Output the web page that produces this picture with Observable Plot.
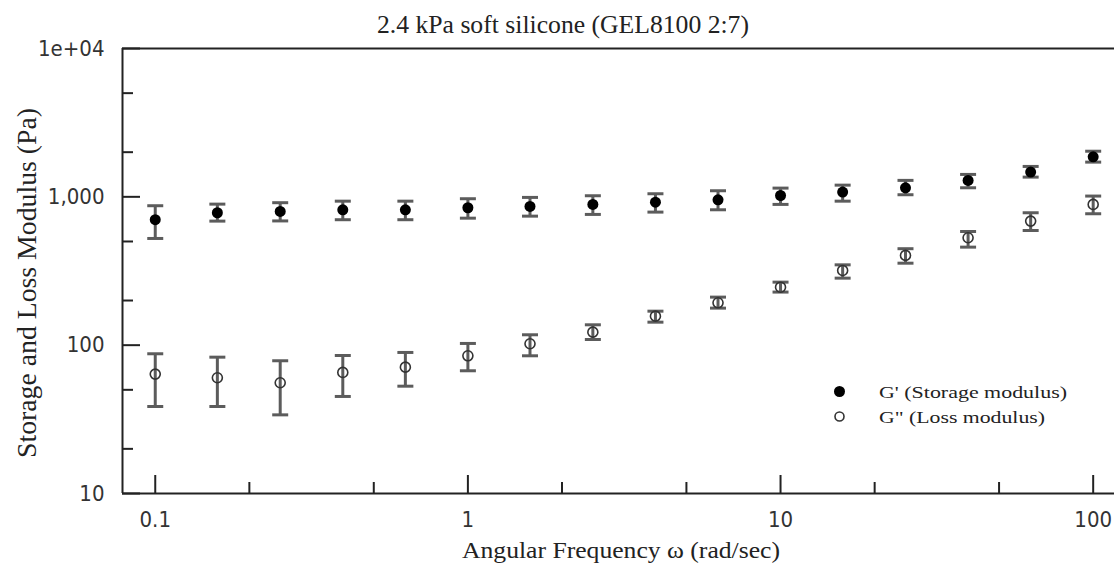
<!DOCTYPE html>
<html><head><meta charset="utf-8">
<script src="https://cdn.jsdelivr.net/npm/d3@7"></script>
<script src="https://cdn.jsdelivr.net/npm/@observablehq/plot@0.6"></script>
<style>html,body{margin:0;padding:0;background:#fff;} #chart{width:1114px;height:565px;overflow:hidden;}</style>
</head><body><div id="chart"></div>
<script>
// ---- data ----
const freq = [0.1, 0.158, 0.251, 0.398, 0.631, 1, 1.58, 2.51, 3.98, 6.31, 10, 15.8, 25.1, 39.8, 63.1, 100];
const storage   = [701, 781, 797, 818, 818, 844, 861, 889, 921, 955, 1021, 1076, 1151, 1291, 1468, 1860];
const storageLo = [524, 686, 688, 701, 701, 718, 741, 761, 789, 818, 889, 935, 1033, 1151, 1358, 1714];
const storageHi = [871, 893, 913, 935, 935, 971, 991, 1017, 1049, 1099, 1145, 1199, 1291, 1416, 1603, 2030];
const loss   = [63.8, 60.3, 55.8, 65.5, 71.1, 84.8, 102.2, 122.4, 156.9, 193, 246, 319, 403, 530, 686, 889];
const lossLo = [38.6, 38.6, 33.9, 45.1, 52.9, 67.2, 84.8, 109.2, 142.9, 177.7, 228, 283, 357, 458, 593, 769];
const lossHi = [87.5, 83, 78.5, 85.2, 89.3, 102.7, 117.5, 137.2, 169.5, 210.8, 266, 348, 447, 584, 781, 1012];

const xDomain = [0.07857, 117.0];
const yDomain = [10, 10000];
const xMajor = [0.1, 1, 10, 100];
const xMajorLabels = ["0.1", "1", "10", "100"];
const xMinor = [0.2, 0.5, 2, 5, 20, 50];
const yMajor = [10, 100, 1000, 10000];
const yMajorLabels = ["10", "100", "1,000", "1e+04"];
const yMinor = [20, 50, 200, 500, 2000, 5000];

const titleText = "2.4 kPa soft silicone (GEL8100 2:7)";
const xLabelText = "Angular Frequency \u03c9 (rad/sec)";
const yLabelText = "Storage and Loss Modulus (Pa)";
const legendLabels = ["G' (Storage modulus)", "G\" (Loss modulus)"];

// ---- tables ----
const storageRows = freq.map((f, i) => ({f, v: storage[i], lo: storageLo[i], hi: storageHi[i]}));
const lossRows = freq.map((f, i) => ({f, v: loss[i], lo: lossLo[i], hi: lossHi[i]}));
const allRows = storageRows.concat(lossRows);

const capSymbol = {draw(ctx, size) { const w = Math.sqrt(size / Math.PI); ctx.moveTo(-w, 0); ctx.lineTo(w, 0); }};
const barColor = "#5c5c5c";
const axisColor = "#222";
const tickFont = "'Liberation Sans Narrow', 'DejaVu Sans Condensed', sans-serif";

const chart = Plot.plot({
  width: 1114, height: 565,
  marginTop: 48, marginLeft: 122, marginRight: 0, marginBottom: 72,
  style: {background: "#fff"},
  x: {type: "log", domain: xDomain},
  y: {type: "log", domain: yDomain},
  marks: [
    // axis frame lines
    Plot.ruleY([yDomain[0]], {stroke: axisColor, strokeWidth: 2}),
    Plot.ruleY([yDomain[1]], {stroke: axisColor, strokeWidth: 2}),
    Plot.ruleX([xDomain[0]], {stroke: axisColor, strokeWidth: 2}),
    // inward ticks
    Plot.axisY({ticks: yMajor, tickSize: -18, fill: "none", stroke: axisColor, strokeWidth: 2, label: null}),
    Plot.axisY({ticks: yMinor, tickSize: -11, fill: "none", stroke: axisColor, strokeWidth: 2, label: null}),
    Plot.axisX({ticks: xMajor, tickSize: -18, fill: "none", stroke: axisColor, strokeWidth: 2, label: null}),
    Plot.axisX({ticks: xMinor, tickSize: -11, fill: "none", stroke: axisColor, strokeWidth: 2, label: null}),
    // tick labels
    Plot.axisY({ticks: yMajor, tickSize: 0, tickPadding: 18, label: null, stroke: "none", fill: "#333",
      tickFormat: d => yMajorLabels[yMajor.indexOf(d)], fontSize: 22, fontFamily: tickFont}),
    Plot.axisX({ticks: xMajor, tickSize: 0, tickPadding: 18, label: null, stroke: "none", fill: "#333",
      tickFormat: d => xMajorLabels[xMajor.indexOf(d)], fontSize: 22, fontFamily: tickFont}),
    // error bars
    Plot.ruleX(allRows, {x: "f", y1: "lo", y2: "hi", stroke: barColor, strokeWidth: 3}),
    Plot.dot(allRows, {x: "f", y: "lo", r: 8, symbol: capSymbol, fill: "none", stroke: barColor, strokeWidth: 3}),
    Plot.dot(allRows, {x: "f", y: "hi", r: 8, symbol: capSymbol, fill: "none", stroke: barColor, strokeWidth: 3}),
    // points
    Plot.dot(storageRows, {x: "f", y: "v", r: 5.5, fill: "#000", stroke: "none"}),
    Plot.dot(lossRows, {x: "f", y: "v", r: 5, fill: "none", stroke: "#333", strokeWidth: 1.6})
  ]
});
document.getElementById("chart").appendChild(chart);

// ---- title, axis titles, legend ----
const svg = d3.select(chart);
const serif = "'Liberation Serif', 'Times New Roman', serif";
svg.append("text").text(titleText)
  .attr("x", 377).attr("y", 32.5).attr("text-anchor", "start").attr("font-family", serif).attr("font-size", 26)
  .attr("fill", "#222").attr("textLength", 372).attr("lengthAdjust", "spacingAndGlyphs");
svg.append("text").text(xLabelText)
  .attr("x", 462).attr("y", 558).attr("text-anchor", "start").attr("font-family", serif).attr("font-size", 24)
  .attr("fill", "#222").attr("textLength", 318).attr("lengthAdjust", "spacingAndGlyphs");
svg.append("text").text(yLabelText)
  .attr("transform", "translate(36,458) rotate(-90)").attr("text-anchor", "start").attr("font-family", serif).attr("font-size", 27)
  .attr("fill", "#222").attr("textLength", 350).attr("lengthAdjust", "spacingAndGlyphs");

const lg = svg.append("g").attr("text-anchor", "start");
lg.append("circle").attr("cx", 839.5).attr("cy", 391.5).attr("r", 5.5).attr("fill", "#000");
lg.append("circle").attr("cx", 839.5).attr("cy", 416.5).attr("r", 4.5).attr("fill", "none").attr("stroke", "#333").attr("stroke-width", 1.6);
lg.append("text").text(legendLabels[0]).attr("x", 879).attr("y", 397.5)
  .attr("font-family", serif).attr("font-size", 17).attr("fill", "#222")
  .attr("textLength", 188).attr("lengthAdjust", "spacingAndGlyphs");
lg.append("text").text(legendLabels[1]).attr("x", 879).attr("y", 423)
  .attr("font-family", serif).attr("font-size", 17).attr("fill", "#222")
  .attr("textLength", 166).attr("lengthAdjust", "spacingAndGlyphs");
</script>
</body></html>
